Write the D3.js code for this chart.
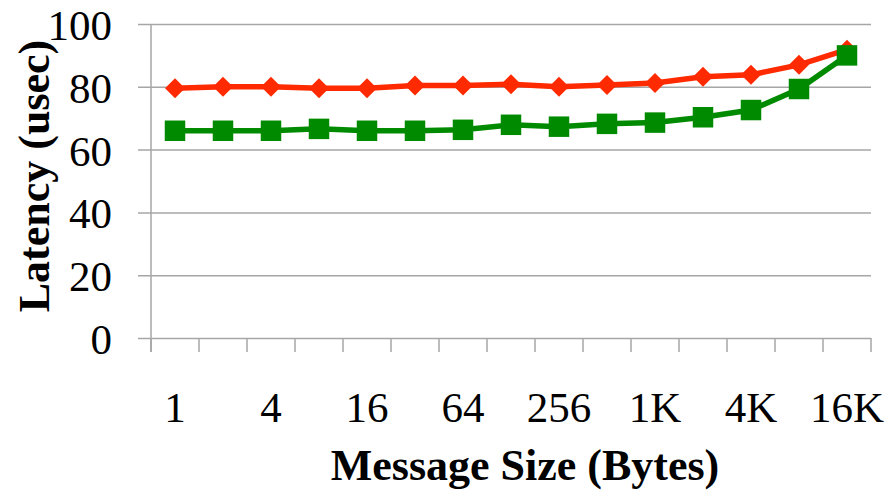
<!DOCTYPE html>
<html>
<head>
<meta charset="utf-8">
<script src="https://cdn.jsdelivr.net/npm/d3@7"></script>
<style>
    body { margin: 0; background: #fff; }
    text { font-family: "Liberation Serif", "Times New Roman", serif; fill: #000; }
</style>
</head>
<body>
<div id="chart"></div>
<script>
// message sizes (bytes), label shown on every other one
const sizes = ["1", "2", "4", "8", "16", "32", "64", "128", "256", "512", "1K", "2K", "4K", "8K", "16K"];
const redLatency = [79.5, 80.0, 80.0, 79.5, 79.5, 80.4, 80.4, 80.8, 80.0, 80.6, 81.2, 83.2, 83.8, 87.0, 91.8];
const greenLatency = [66.0, 66.0, 66.0, 66.6, 66.0, 66.0, 66.3, 67.9, 67.3, 68.2, 68.6, 70.3, 72.6, 79.3, 90.0];
const yTicks = [0, 20, 40, 60, 80, 100];

const width = 887, height = 500,
    margin = { top: 24, right: 16, bottom: 162, left: 151 };

let svg = d3.select("#chart").append("svg")
    .attr("width", width).attr("height", height);

let innerW = width - margin.left - margin.right,
    innerH = height - margin.top - margin.bottom;

let x = d3.scaleBand().domain(sizes).range([0, innerW]),
    y = d3.scaleLinear().domain([0, 100]).range([innerH, 0]);

let g = svg.append("g")
    .attr("transform", "translate(" + margin.left + "," + margin.top + ")");

let gridColor = "#a6a6a6";

// horizontal gridlines + y axis labels
g.append("g")
    .call(d3.axisLeft(y).tickValues(yTicks).tickSize(-innerW - 13).tickPadding(0))
    .call(s => s.select(".domain").remove())
    .call(s => s.selectAll(".tick line")
        .attr("x1", -13).attr("x2", innerW)
        .attr("stroke", gridColor).attr("stroke-width", 1.5))
    .call(s => s.selectAll(".tick text")
        .attr("x", -39).attr("dy", "0.36em")
        .style("font-size", "43px"));

// y axis line
g.append("line")
    .attr("x1", 0).attr("x2", 0).attr("y1", 0).attr("y2", innerH + 14)
    .attr("stroke", gridColor).attr("stroke-width", 1.5);

// x axis: ticks at band edges
let edges = sizes.map(d => x(d)).concat([innerW]);
g.selectAll(".xtick")
    .data(edges)
    .enter().append("line")
    .attr("x1", d => d).attr("x2", d => d)
    .attr("y1", innerH).attr("y2", innerH + 14)
    .attr("stroke", gridColor).attr("stroke-width", 1.5);

g.selectAll(".xlabel")
    .data(sizes.filter((d, i) => i % 2 === 0))
    .enter().append("text")
    .attr("x", d => x(d) + x.bandwidth() / 2)
    .attr("y", innerH + 84)
    .attr("text-anchor", "middle")
    .style("font-size", "43px")
    .text(d => d);

// axis titles
svg.append("text")
    .attr("x", 525).attr("y", 480)
    .attr("text-anchor", "middle")
    .style("font-size", "44px").style("font-weight", "bold")
    .text("Message Size (Bytes)");

svg.append("text")
    .attr("transform", "translate(49,176) rotate(-90)")
    .attr("text-anchor", "middle")
    .style("font-size", "44px").style("font-weight", "bold")
    .text("Latency (usec)");

let cx = (d, i) => x(sizes[i]) + x.bandwidth() / 2;

let line = d3.line().x(cx).y(d => y(d));

g.append("path").datum(redLatency)
    .attr("fill", "none").attr("stroke", "#ff2a00").attr("stroke-width", 5.5)
    .attr("d", line);

g.append("path").datum(greenLatency)
    .attr("fill", "none").attr("stroke", "#008a00").attr("stroke-width", 5.5)
    .attr("d", line);

let diamond = d3.symbol().type(d3.symbolSquare).size(200),
    square = d3.symbol().type(d3.symbolSquare).size(420);

g.selectAll(".red")
    .data(redLatency)
    .enter().append("path")
    .attr("d", diamond)
    .attr("fill", "#ff2a00")
    .attr("transform", (d, i) => "translate(" + cx(d, i) + "," + y(d) + ") rotate(45)");

g.selectAll(".green")
    .data(greenLatency)
    .enter().append("path")
    .attr("d", square)
    .attr("fill", "#008a00")
    .attr("transform", (d, i) => "translate(" + cx(d, i) + "," + y(d) + ")");
</script>
</body>
</html>
